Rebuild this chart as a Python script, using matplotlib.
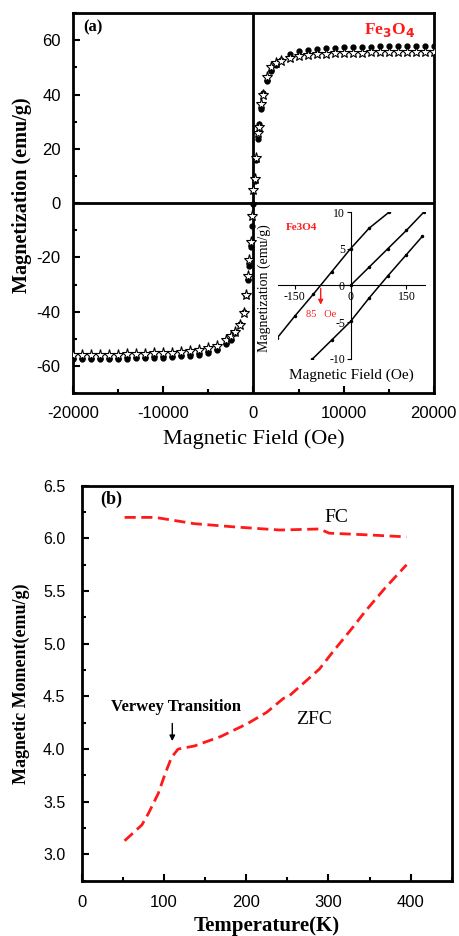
import numpy as np
import matplotlib
matplotlib.use('Agg')
import matplotlib.pyplot as plt
from matplotlib.ticker import MultipleLocator

plt.rcParams['axes.unicode_minus'] = False

# (a) M-H loop, shared field grid (Oe)
field = [-20000, -19000, -18000, -17000, -16000, -15000, -14000, -13000, -12000,
         -11000, -10000, -9000, -8000, -7000, -6000, -5000, -4000, -3000,
         -2500, -2000, -1500, -1100, -800, -600, -450, -300, -150, 0,
         150, 300, 450, 600, 800, 1100, 1500, 2000, 2500,
         3000, 4000, 5000, 6000, 7000, 8000, 9000, 10000, 11000, 12000,
         13000, 14000, 15000, 16000, 17000, 18000, 19000, 20000]
m_filled = [-57.6, -57.6, -57.5, -57.5, -57.4, -57.4, -57.3, -57.2, -57.1,
            -57.0, -56.9, -56.7, -56.5, -56.2, -55.8, -55.1, -54.0, -51.8,
            -50.5, -48.0, -44.5, -40.0, -34.0, -28.5, -23.0, -16.0, -8.5, -0.5,
            8.0, 16.0, 23.5, 29.0, 34.5, 40.5, 45.0, 48.5, 51.0,
            52.8, 54.8, 55.9, 56.5, 56.9, 57.1, 57.3, 57.4, 57.5, 57.6,
            57.6, 57.7, 57.7, 57.8, 57.8, 57.9, 57.9, 58.0]
m_star = [-56.0, -56.0, -55.9, -55.9, -55.8, -55.8, -55.7, -55.6, -55.5,
          -55.4, -55.3, -55.1, -54.9, -54.6, -54.2, -53.5, -52.5, -50.5,
          -49.0, -47.5, -45.0, -40.5, -34.0, -27.0, -21.0, -14.5, -4.8, 4.8,
          9.0, 16.5, 26.0, 28.0, 36.5, 40.0, 46.3, 50.0, 51.5,
          52.3, 53.6, 54.3, 54.7, 54.9, 55.1, 55.2, 55.3, 55.4, 55.4,
          55.5, 55.5, 55.6, 55.6, 55.6, 55.7, 55.7, 55.7]

# inset, low-field branches
ins_h_up = [-196, -150, -100, -50, 0, 50, 104]
ins_m_up = [-7.1, -4.2, -1.2, 1.9, 5.0, 7.8, 10.0]
ins_h_mid = [0, 50, 100, 150, 197]
ins_m_mid = [0.0, 2.5, 5.0, 7.5, 10.0]
ins_h_low = [-102, -50, 0, 50, 100, 150, 193]
ins_m_low = [-10.0, -7.4, -4.9, -1.7, 1.3, 4.2, 6.7]

# (b) FC / ZFC
t_fc = [52, 89, 137, 185, 241, 289, 301, 345, 395]
m_fc = [6.20, 6.20, 6.14, 6.11, 6.08, 6.09, 6.05, 6.035, 6.015]
t_zfc = [52, 73, 81, 93, 101, 109, 117, 137, 169, 201, 225, 245, 253,
         289, 305, 329, 345, 369, 395]
m_zfc = [3.13, 3.28, 3.39, 3.58, 3.76, 3.92, 4.00, 4.03, 4.12, 4.24, 4.35,
         4.48, 4.51, 4.76, 4.92, 5.15, 5.31, 5.53, 5.75]

serif = 'Liberation Serif'
sans = 'Liberation Sans'
red = '#ff1a1a'

fig = plt.figure(figsize=(4.6, 9.36), dpi=100)

# ---- top panel
ax = fig.add_axes([0.159, 0.580, 0.784, 0.406])
ax.plot(field, m_filled, 'o', ms=3.5, color='black', zorder=3)
ax.plot(field, m_star, '*', ms=8, mfc='white', mec='black', mew=0.8, zorder=4)
ax.axhline(0, color='black', lw=2)
ax.axvline(0, color='black', lw=2)
ax.set_xlim(-20000, 20000)
ax.set_ylim(-70, 70)
ax.set_xticks([-20000, -10000, 0, 10000, 20000])
ax.set_yticks([-60, -40, -20, 0, 20, 40, 60])
ax.xaxis.set_minor_locator(MultipleLocator(5000))
ax.yaxis.set_minor_locator(MultipleLocator(10))
ax.tick_params(which='both', direction='in', width=1.5, top=False, right=False)
ax.tick_params(which='major', length=5, labelsize=12)
ax.tick_params(axis='x', which='major', pad=9)
ax.tick_params(axis='y', which='major', pad=9)
ax.tick_params(which='minor', length=3)
for lab in ax.get_xticklabels() + ax.get_yticklabels():
    lab.set_fontfamily(sans)
for s in ax.spines.values():
    s.set_linewidth(2)
ax.set_xlabel('Magnetic Field (Oe)', family=serif, fontsize=16)
ax.set_ylabel('Magnetization (emu/g)', family=serif, fontsize=14.5, fontweight='bold')
ax.xaxis.set_label_coords(0.5, -0.095)
ax.yaxis.set_label_coords(-0.115, 0.52)
ax.text(0.028, 0.963, '(a)', transform=ax.transAxes, family=serif,
        fontweight='bold', fontsize=12, va='center')
ax.text(0.947, 0.955, r'Fe$_\mathbf{3}$O$_\mathbf{4}$', transform=ax.transAxes,
        family=serif, fontweight='bold', fontsize=12.5, color=red,
        ha='right', va='center')

# ---- inset
ins = fig.add_axes([0.604, 0.6165, 0.320, 0.157])
ins.patch.set_alpha(0)
for h, m in [(ins_h_up, ins_m_up), (ins_h_mid, ins_m_mid), (ins_h_low, ins_m_low)]:
    ins.plot(h, m, '-', color='black', lw=1.1, marker='.', ms=3)
ins.set_xlim(-195, 200)
ins.set_ylim(-10, 10)
ins.spines['left'].set_position(('data', 0))
ins.spines['bottom'].set_position(('data', 0))
ins.spines['top'].set_visible(False)
ins.spines['right'].set_visible(False)
ins.set_xticks([-150, 0, 150])
ins.set_xticklabels(['-150', '0', '150'])
ins.set_yticks([-10, -5, 0, 5, 10])
ins.tick_params(direction='out', length=3, labelsize=8.5, pad=1)
for lab in ins.get_xticklabels() + ins.get_yticklabels():
    lab.set_fontfamily(serif)
ins.annotate('', xy=(-80, -3.0), xytext=(-80, 0),
             arrowprops=dict(arrowstyle='-|>', color=red, lw=1, mutation_scale=7))
ins.text(-80, -3.9, '85   Oe', color=red, family=serif, fontsize=7.5,
         ha='center', va='center')
ins.text(-131, 7.9, 'Fe3O4', color=red, family=serif, fontsize=8,
         fontweight='bold', ha='center', va='center')
ins.text(0.5, -0.11, 'Magnetic Field (Oe)', transform=ins.transAxes,
         family=serif, fontsize=11, ha='center', va='center')
ins.text(-0.09, 0.48, 'Magnetization (emu/g)', transform=ins.transAxes,
         family=serif, fontsize=10, ha='center', va='center', rotation=90)

# ---- bottom panel
bx = fig.add_axes([0.178, 0.059, 0.804, 0.422])
bx.plot(t_fc, m_fc, '--', color=red, lw=2, dashes=(4, 2))
bx.plot(t_zfc, m_zfc, '--', color=red, lw=2, dashes=(4, 2))
bx.set_xlim(0, 450)
bx.set_ylim(2.75, 6.5)
bx.set_xticks([0, 100, 200, 300, 400])
bx.set_yticks([3.0, 3.5, 4.0, 4.5, 5.0, 5.5, 6.0, 6.5])
bx.xaxis.set_minor_locator(MultipleLocator(50))
bx.yaxis.set_minor_locator(MultipleLocator(0.25))
bx.tick_params(which='both', direction='in', width=1.5, top=False, right=False)
bx.tick_params(which='major', length=5)
bx.tick_params(axis='x', which='major', labelsize=12, pad=10)
bx.tick_params(axis='y', which='major', labelsize=11.5, pad=12)
bx.tick_params(which='minor', length=3)
for lab in bx.get_xticklabels() + bx.get_yticklabels():
    lab.set_fontfamily(sans)
for s in bx.spines.values():
    s.set_linewidth(2)
bx.set_xlabel('Temperature(K)', family=serif, fontsize=15, fontweight='bold')
bx.set_ylabel('Magnetic Moment(emu/g)', family=serif, fontsize=13, fontweight='bold')
bx.xaxis.set_label_coords(0.5, -0.088)
bx.yaxis.set_label_coords(-0.14, 0.5)
bx.text(22, 6.37, '(b)', family=serif, fontweight='bold', fontsize=13, va='center')
bx.text(310, 6.2, 'FC', family=serif, fontsize=14, ha='center', va='center')
bx.text(283, 4.28, 'ZFC', family=serif, fontsize=14, ha='center', va='center')
bx.text(114, 4.40, 'Verwey Transition', family=serif, fontweight='bold',
        fontsize=12, ha='center', va='center')
bx.annotate('', xy=(110, 4.05), xytext=(110, 4.27),
            arrowprops=dict(arrowstyle='-|>', color='black', lw=1, mutation_scale=8))

fig.savefig('out.png', dpi=100)
